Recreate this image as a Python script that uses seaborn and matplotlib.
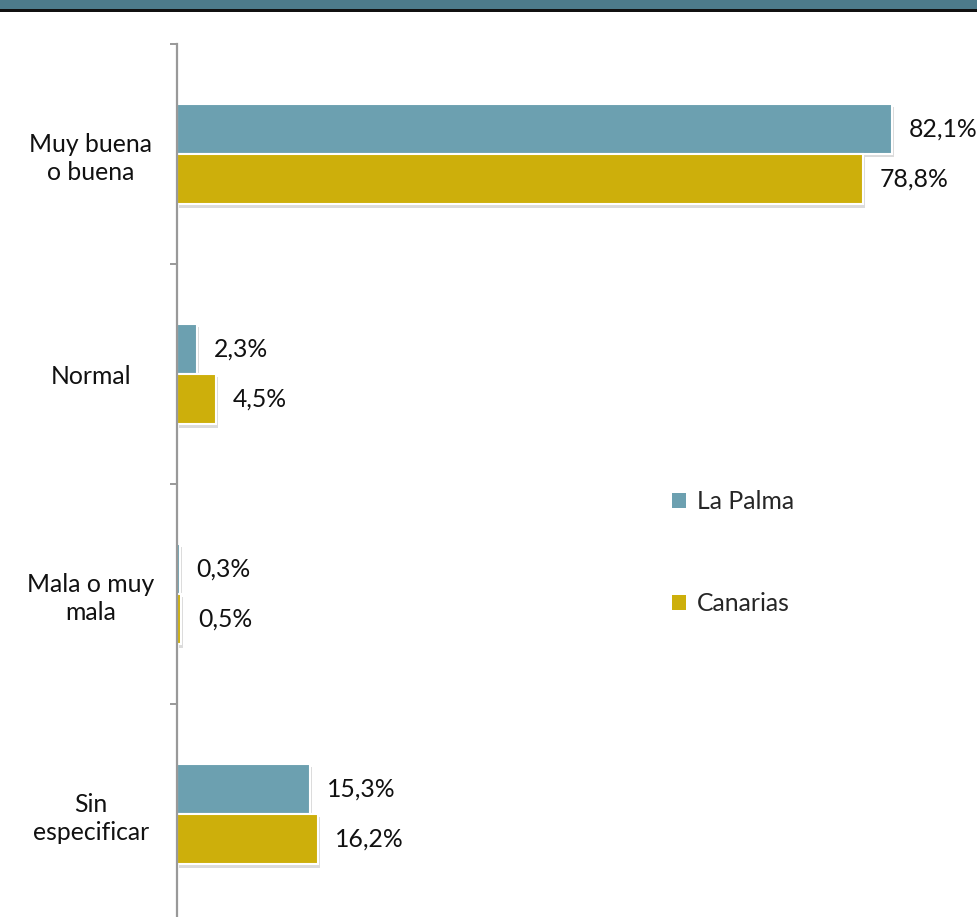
import matplotlib
matplotlib.use("Agg")
import matplotlib.pyplot as plt
import matplotlib.patheffects as pe
from matplotlib.patches import Rectangle
from matplotlib.ticker import FixedLocator
import seaborn as sns
import pandas as pd

categories = ["Muy buena\no buena", "Normal", "Mala o muy\nmala", "Sin\nespecificar"]
series_names = ["La Palma", "Canarias"]
la_palma = [82.1, 2.3, 0.3, 15.3]
canarias = [78.8, 4.5, 0.5, 16.2]
colors = ["#6CA0B0", "#CDAF0B"]

rows = []
for c, a, b in zip(categories, la_palma, canarias):
    rows.append({"cat": c, "serie": series_names[0], "val": a})
    rows.append({"cat": c, "serie": series_names[1], "val": b})
df = pd.DataFrame(rows)

sns.set_theme(style="white")
plt.rcParams["font.family"] = ["Lato", "DejaVu Sans"]

FS = 17.8
W, H = 978, 917
fig = plt.figure(figsize=(W / 100, H / 100), dpi=100)
ax = fig.add_axes([177 / W, (H - 924) / H, (W - 177) / W, 880 / H])

sns.barplot(data=df, y="cat", x="val", hue="serie", orient="h",
            palette=colors, saturation=1, width=0.455, ax=ax, order=categories,
            hue_order=series_names, edgecolor="white", linewidth=1.5,
            legend=True)

shadow = [pe.SimplePatchShadow(offset=(1.5, -2.5), shadow_rgbFace="#999999", alpha=0.35), pe.Normal()]
for p in ax.patches:
    p.set_path_effects(shadow)

for cont in ax.containers:
    labels = [f"{v:.1f}".replace(".", ",") + "%" for v in cont.datavalues]
    ax.bar_label(cont, labels=labels, padding=12, fontsize=FS, color="#111111")

ax.set_xlim(0, 92)
ax.set_ylim(3.5, -0.5)
ax.set_xlabel("")
ax.set_ylabel("")
ax.set_xticks([])
ax.set_yticks(range(len(categories)))
ax.set_yticklabels(categories, fontsize=FS, ha="center", color="#111111", linespacing=1.25)
ax.tick_params(axis="y", which="major", length=0, pad=62)
ax.yaxis.set_minor_locator(FixedLocator([-0.5, 0.5, 1.5, 2.5, 3.5]))
ax.tick_params(axis="y", which="minor", length=5, width=1.2, color="#888888", left=True)
for s in ["top", "right", "bottom"]:
    ax.spines[s].set_visible(False)
ax.spines["left"].set_color("#999999")
ax.spines["left"].set_linewidth(1.6)

leg = ax.legend(loc="upper left", bbox_to_anchor=(650 / W, 1 - 468 / H), bbox_transform=fig.transFigure,
                frameon=False, fontsize=FS, labelspacing=3.2, handlelength=0.55, handleheight=0.55,
                handletextpad=0.45)
for h in leg.legend_handles:
    h.set_path_effects([])
    h.set_edgecolor("none")

fig.add_artist(Rectangle((0, 1 - 9 / H), 1, 9 / H, transform=fig.transFigure,
                         facecolor="#4D7B8B", edgecolor="none"))
fig.add_artist(Rectangle((0, 1 - 12 / H), 1, 3 / H, transform=fig.transFigure,
                         facecolor="#111111", edgecolor="none"))

fig.savefig("out.png", dpi=100)
